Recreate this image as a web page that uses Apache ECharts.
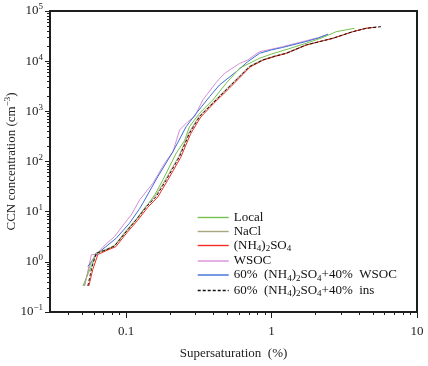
<!DOCTYPE html>
<html>
<head>
<meta charset="utf-8">
<script src="https://cdn.jsdelivr.net/npm/echarts@6/dist/echarts.min.js"></script>
<style>
  html, body { margin: 0; padding: 0; background: #fff; }
  #chart { width: 428px; height: 366px; }
</style>
</head>
<body>
<div id="chart"></div>
<script>
// 过饱和度 (%) 与 CCN 浓度 (cm^-3)，逐条曲线读图所得
const localS = [0.0505, 0.058, 0.0624, 0.073, 0.0834, 0.1, 0.1175, 0.1377, 0.158, 0.179, 0.221, 0.252, 0.273, 0.32, 0.395, 0.488, 0.603, 0.827, 1.0, 1.3, 1.73, 2.2, 2.785, 3.72];
const localN = [0.33, 0.85, 1.49, 1.73, 2.08, 4.0, 6.9, 12.6, 22, 43, 146, 260, 496, 916, 1687, 3631, 7228, 11430, 13900, 17500, 22740, 28900, 38700, 45200];

const naclS = [0.0515, 0.056, 0.062, 0.072, 0.083, 0.0995, 0.117, 0.137, 0.159, 0.187, 0.231, 0.27, 0.317, 0.392, 0.497, 0.598, 0.70, 0.865, 1.04, 1.25, 1.72, 2.18, 2.62, 3.6, 4.4, 5.3];
const naclN = [0.33, 0.8, 1.5, 1.75, 2.1, 4.1, 7.0, 12.8, 20.5, 44, 128, 372, 795, 1470, 2920, 4950, 7830, 10650, 12600, 14450, 21100, 25100, 28700, 38800, 45300, 47900];

const asS = [0.0555, 0.059, 0.064, 0.074, 0.085, 0.102, 0.12, 0.141, 0.165, 0.193, 0.238, 0.278, 0.326, 0.40, 0.51, 0.612, 0.715, 0.88, 1.06, 1.27, 1.74, 2.2, 2.65, 3.62, 4.45, 5.24];
const asN = [0.33, 0.7, 1.4, 1.7, 2.0, 3.9, 6.7, 12.2, 19.5, 42, 122, 358, 770, 1430, 2850, 4870, 7700, 10500, 12450, 14300, 21000, 25000, 28500, 38600, 45000, 47800];

const wsocS = [0.052, 0.0577, 0.0625, 0.072, 0.0834, 0.0977, 0.1086, 0.124, 0.153, 0.184, 0.21, 0.2334, 0.266, 0.296, 0.337, 0.417, 0.475, 0.603, 0.687, 0.827, 1.0, 1.19, 1.73, 2.1, 2.44];
const wsocN = [0.33, 1.38, 1.42, 2.2, 3.19, 5.9, 8.6, 17.2, 37, 92, 157, 426, 624, 784, 1687, 3800, 5700, 9000, 10570, 15460, 17300, 19460, 25600, 29500, 34360];

const mixWsocS = [0.0546, 0.064, 0.0857, 0.1057, 0.124, 0.1305, 0.1654, 0.21, 0.259, 0.304, 0.375, 0.439, 0.572, 0.687, 0.827, 1.0, 1.19, 1.73, 2.1, 2.44];
const mixWsocN = [0.806, 1.49, 2.97, 5.9, 11.5, 14.8, 50, 157, 496, 916, 1963, 3357, 6180, 9775, 14360, 16800, 18750, 24660, 29000, 34360];

const mixInsS = [0.0546, 0.058, 0.0624, 0.0731, 0.0834, 0.1003, 0.1175, 0.138, 0.161, 0.189, 0.233, 0.273, 0.320, 0.395, 0.501, 0.603, 0.706, 0.871, 1.05, 1.262, 1.732, 2.2, 2.64, 3.62, 4.48, 5.67];
const mixInsN = [0.33, 0.75, 1.49, 1.73, 2.08, 4.0, 6.9, 12.5, 20, 43, 125, 366, 784, 1449, 2885, 4910, 7770, 10570, 12500, 14370, 21040, 25000, 28600, 38700, 45200, 48700];

// 刻度
const xMajor = [0.1, 1, 10];
const xMinor = [0.04, 0.05, 0.06, 0.07, 0.08, 0.09, 0.2, 0.3, 0.4, 0.5, 0.6, 0.7, 0.8, 0.9, 2, 3, 4, 5, 6, 7, 8, 9];
const yMajor = [0.1, 1, 10, 100, 1000, 10000, 100000];
const yMinor = [];
yMajor.slice(0, -1).forEach(d => {
  for (let k = 2; k <= 9; k++) yMinor.push(+(d * k).toPrecision(3));
});

const names = ['Local', 'NaCl', '(NH4)2SO4', 'WSOC', '60%  (NH4)2SO4+40%  WSOC', '60%  (NH4)2SO4+40%  ins'];
const colors = ['#76c04e', '#a9a57c', '#f02c24', '#d68fd6', '#3c6fd4', '#111'];

const FONT = 'Liberation Serif';
const AXIS_COLOR = '#1e1e1e';

const zip = (xs, ys) => xs.map((x, i) => [x, ys[i]]);

// 下标 (NH4)2SO4
const chem = name => name
  .replace(/NH4/g, 'NH{sub|4}')
  .replace(/\)2/g, '){sub|2}')
  .replace(/SO4/g, 'SO{sub|4}');

const supRich = {
  b: { fontFamily: FONT, fontSize: 13, color: '#222' },
  sup: { fontFamily: FONT, fontSize: 9, color: '#222', verticalAlign: 'top', padding: [0, 0, 8, 0] },
};

function lineSeries(i, s, n, extra) {
  return Object.assign({
    name: names[i],
    type: 'line',
    data: zip(s, n),
    symbol: 'none',
    lineStyle: { color: colors[i], width: 1 },
    itemStyle: { color: colors[i] },
  }, extra || {});
}

const myChart = echarts.init(document.getElementById('chart'));

let option = {
  animation: false,
  grid: {
    left: 50,
    right: 11,
    top: 11,
    bottom: 54,
    containLabel: false,
    outerBoundsMode: 'none',
    show: true,
    borderColor: AXIS_COLOR,
    borderWidth: 2,
  },
  legend: {
    // 图例线段颜色逐项写明
    data: names.map((n, i) => ({
      name: n,
      lineStyle: { color: colors[i], width: 1.4, type: i === 5 ? [3, 2] : 'solid', opacity: 1 },
    })),
    orient: 'vertical',
    left: 197,
    top: 211,
    itemWidth: 31,
    itemHeight: 9,
    itemGap: 1,
    padding: 0,
    // 只保留线段，不画圆点
    itemStyle: { color: 'rgba(0,0,0,0)', borderWidth: 0, opacity: 0 },
    formatter: chem,
    textStyle: {
      fontFamily: FONT,
      fontSize: 13,
      color: '#111',
      rich: {
        sub: { fontFamily: FONT, fontSize: 9, color: '#111', verticalAlign: 'bottom', padding: [7, 0, 0, 0] },
      },
    },
  },
  xAxis: [
    {
      type: 'log',
      min: 0.03,
      max: 10,
      position: 'bottom',
      name: 'Supersaturation  (%)',
      nameLocation: 'middle',
      nameGap: 35,
      nameMoveOverlap: false,
      nameTextStyle: { fontFamily: FONT, fontSize: 13, color: '#222' },
      axisLine: { show: true, lineStyle: { color: AXIS_COLOR, width: 2 } },
      axisTick: { show: true, length: 6, customValues: xMajor, lineStyle: { color: AXIS_COLOR, width: 1 } },
      axisLabel: {
        customValues: xMajor,
        margin: 13,
        fontFamily: FONT,
        fontSize: 13,
        color: '#222',
        formatter: v => String(v),
      },
      splitLine: { show: false },
    },
    {
      // 次刻度
      type: 'log',
      min: 0.03,
      max: 10,
      position: 'bottom',
      axisLine: { show: false },
      axisTick: { show: true, length: 3, customValues: xMinor, lineStyle: { color: AXIS_COLOR, width: 1 } },
      axisLabel: { show: false },
      splitLine: { show: false },
    },
  ],
  yAxis: [
    {
      type: 'log',
      min: 0.1,
      max: 100000,
      position: 'left',
      name: 'CCN concentration (cm{sup|−3})',
      nameLocation: 'middle',
      nameGap: 30,
      nameRotate: 90,
      nameMoveOverlap: false,
      nameTextStyle: { fontFamily: FONT, fontSize: 13, color: '#222', rich: supRich },
      axisLine: { show: true, lineStyle: { color: AXIS_COLOR, width: 2 } },
      axisTick: { show: true, length: 5, customValues: yMajor, lineStyle: { color: AXIS_COLOR, width: 1 } },
      axisLabel: {
        customValues: yMajor,
        margin: 7,
        formatter: v => '{b|10}{sup|' + String(Math.round(Math.log10(v))).replace('-', '−') + '}',
        rich: supRich,
      },
      splitLine: { show: false },
    },
    {
      type: 'log',
      min: 0.1,
      max: 100000,
      position: 'left',
      axisLine: { show: false },
      axisTick: { show: true, length: 3, customValues: yMinor, lineStyle: { color: AXIS_COLOR, width: 1 } },
      axisLabel: { show: false },
      splitLine: { show: false },
    },
  ],
  series: [
    lineSeries(3, wsocS, wsocN),
    lineSeries(4, mixWsocS, mixWsocN),
    lineSeries(0, localS, localN),
    lineSeries(1, naclS, naclN),
    lineSeries(2, asS, asN),
    lineSeries(5, mixInsS, mixInsN, {
      lineStyle: { color: colors[5], width: 1, type: [3, 2] },
    }),
  ],
};

myChart.setOption(option);
</script>
</body>
</html>
